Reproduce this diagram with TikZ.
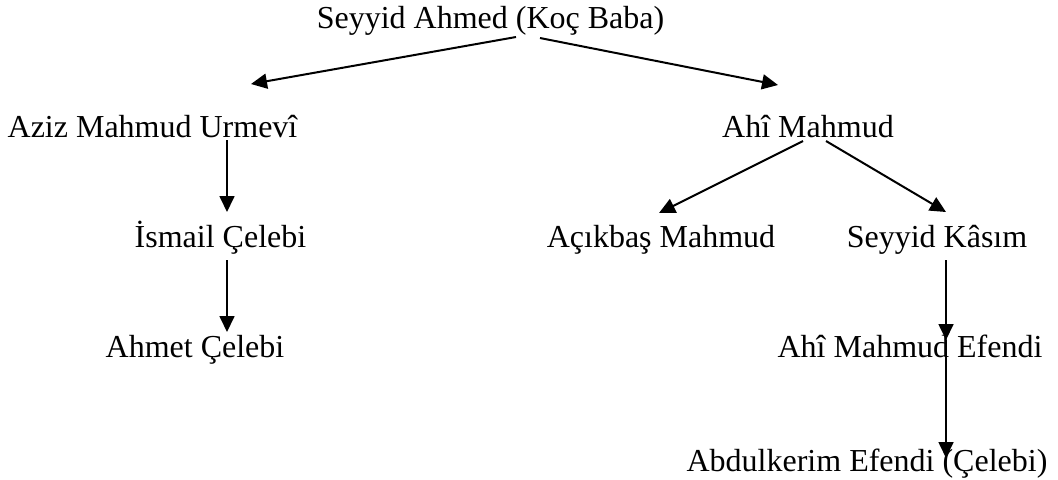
\documentclass[tikz,border=0pt]{standalone}
\usepackage{fontspec}
\setmainfont{Liberation Serif}
\usetikzlibrary{arrows.meta}
\begin{document}
\begin{tikzpicture}[x=0.5pt,y=-0.5pt,
  person/.style={anchor=base,inner sep=0pt,font=\fontsize{16}{19}\selectfont},
  arr/.style={draw=black,line width=1pt,-{Triangle[length=8pt,width=7.5pt]}},
  varr/.style={arr,line width=0.85pt}]
\useasboundingbox[fill=white] (0,0) rectangle (1058,479);
\node[person] (top) at (490.5,28) {Seyyid Ahmed (Koç Baba)};
\node[person] (aziz) at (152.5,137) {Aziz Mahmud Urmevî};
\node[person] (ahi) at (808,137) {Ahî Mahmud};
\node[person] (ismail) at (220.5,247) {İsmail Çelebi};
\node[person] (ahmet) at (195,357) {Ahmet Çelebi};
\node[person] (acik) at (661,247) {Açıkbaş Mahmud};
\node[person] (kasim) at (937,247) {Seyyid Kâsım};
\node[person] (ame) at (910,357) {Ahî Mahmud Efendi};
\node[person] (abd) at (867,471) {Abdulkerim Efendi (Çelebi)};
\draw[arr] ([shift={(25.5,9)}]top.base) -- ([shift={(98.5,-53)}]aziz.base);
\draw[arr] ([shift={(49.5,10)}]top.base) -- ([shift={(-30,-52)}]ahi.base);
\draw[varr] ([shift={(74.5,3)}]aziz.base) -- ([shift={(6.5,-35)}]ismail.base);
\draw[varr] ([shift={(6.5,13)}]ismail.base) -- ([shift={(32,-25)}]ahmet.base);
\draw[arr] ([shift={(-5,4)}]ahi.base) -- ([shift={(-2,-34)}]acik.base);
\draw[arr] ([shift={(18,4)}]ahi.base) -- ([shift={(9,-35)}]kasim.base);
\draw[varr] ([shift={(9,13)}]kasim.base) -- ([shift={(36,-17)}]ame.base);
\draw[varr] ([shift={(36,-17)}]ame.base) -- ([shift={(79,-13)}]abd.base);
\end{tikzpicture}
\end{document}
